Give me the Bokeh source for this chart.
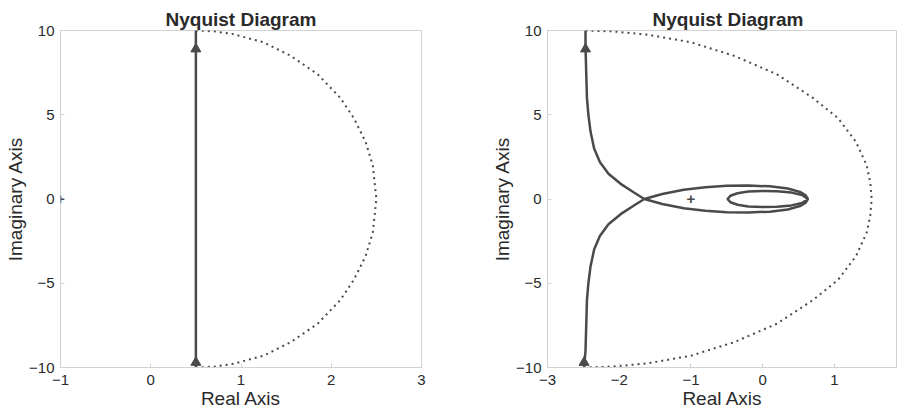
from bokeh.plotting import figure
from bokeh.layouts import row
from bokeh.models import Range1d, FixedTicker, Label
from bokeh.embed import file_html
from bokeh.resources import INLINE

# ---------------- data ----------------
title_text = "Nyquist Diagram"
x_label = "Real Axis"
y_label = "Imaginary Axis"
y_ticks = [-10, -5, 0, 5, 10]

# left diagram
left_x_ticks = [-1, 0, 1, 2, 3]
left_line_x = [0.5, 0.5]
left_line_y = [-10.0, 10.0]
left_arc_x = [0.50, 0.70, 0.90, 1.25, 1.55, 1.85, 2.10, 2.25, 2.38, 2.46, 2.50,
              2.46, 2.38, 2.25, 2.10, 1.85, 1.55, 1.25, 0.90, 0.70, 0.50]
left_arc_y = [10.0, 9.95, 9.8, 9.3, 8.5, 7.4, 6.0, 4.8, 3.4, 2.0, 0.0,
              -2.0, -3.4, -4.8, -6.0, -7.4, -8.5, -9.3, -9.8, -9.95, -10.0]
left_arrow_x = [0.5, 0.5]
left_arrow_y = [8.9, -9.7]

# right diagram
right_x_ticks = [-3, -2, -1, 0, 1]
right_curve_x = [-2.49, -2.47, -2.46, -2.45, -2.43, -2.40, -2.35, -2.27, -2.15, -1.98, -1.80, -1.65,
                 -1.40, -1.10, -0.80, -0.50, -0.20, 0.10, 0.35, 0.52, 0.60, 0.63,
                 0.60, 0.52, 0.35, 0.10, -0.20, -0.50, -0.80, -1.10, -1.40, -1.65,
                 -1.80, -1.98, -2.15, -2.27, -2.35, -2.40, -2.43, -2.45, -2.46, -2.47, -2.47]
right_curve_y = [-10.0, -9.0, -7.5, -6.0, -5.0, -4.0, -3.0, -2.2, -1.5, -0.9, -0.4, 0.0,
                 0.30, 0.55, 0.70, 0.78, 0.80, 0.75, 0.62, 0.42, 0.22, 0.0,
                 -0.22, -0.42, -0.62, -0.75, -0.80, -0.78, -0.70, -0.55, -0.30, 0.0,
                 0.4, 0.9, 1.5, 2.2, 3.0, 4.0, 5.0, 6.0, 7.5, 9.0, 10.0]
right_inner_x = [0.63, 0.55, 0.40, 0.20, 0.00, -0.20, -0.35, -0.45, -0.49,
                 -0.45, -0.35, -0.20, 0.00, 0.20, 0.40, 0.55, 0.63]
right_inner_y = [0.0, 0.24, 0.38, 0.46, 0.48, 0.44, 0.34, 0.19, 0.0,
                 -0.19, -0.34, -0.44, -0.48, -0.46, -0.38, -0.24, 0.0]
right_arc_x = [-2.47, -2.10, -1.60, -1.00, -0.40, 0.20, 0.70, 1.05, 1.30, 1.45, 1.50, 1.52,
               1.50, 1.45, 1.30, 1.05, 0.70, 0.20, -0.40, -1.00, -1.60, -2.10, -2.49]
right_arc_y = [10.0, 9.95, 9.75, 9.3, 8.5, 7.4, 6.0, 4.8, 3.4, 2.0, 1.0, 0.0,
               -1.0, -2.0, -3.4, -4.8, -6.0, -7.4, -8.5, -9.3, -9.75, -9.95, -10.0]
right_arrow_x = [-2.47, -2.49]
right_arrow_y = [8.9, -9.7]

crit_x = [-1.0]
crit_y = [0.0]

# ---------------- styling ----------------
FONT = "Liberation Sans"
INK = "#4a4a4a"
TXT = "#2a2a2a"
FRAME = "#d2d2d2"
HEIGHT = 413


def make_fig(width, xr, xticks, border_left, border_right):
    p = figure(width=width, height=HEIGHT, x_range=Range1d(*xr), y_range=Range1d(-10, 10),
               output_backend="svg", toolbar_location=None,
               min_border_left=border_left, min_border_right=border_right,
               min_border_top=30, min_border_bottom=46)
    p.title.text = title_text
    p.title.text_font = FONT
    p.title.text_font_size = "19px"
    p.title.text_font_style = "bold"
    p.title.text_color = TXT
    p.title.align = "left"
    p.title.offset = 105
    p.title.standoff = 2
    p.grid.visible = False
    p.outline_line_color = FRAME
    p.outline_line_width = 1
    p.background_fill_color = "white"
    p.border_fill_color = "white"
    for ax, lab, ticks, st in ((p.xaxis[0], x_label, xticks, 7), (p.yaxis[0], y_label, y_ticks, 6)):
        ax.ticker = FixedTicker(ticks=ticks)
        ax.axis_label = lab
        ax.axis_label_text_font = FONT
        ax.axis_label_text_font_size = "19px"
        ax.axis_label_text_font_style = "normal"
        ax.axis_label_text_color = TXT
        ax.axis_label_standoff = 0
        ax.major_label_text_font = FONT
        ax.major_label_text_font_size = "15px"
        ax.major_label_text_color = TXT
        ax.major_label_standoff = st
        ax.axis_line_color = FRAME
        ax.major_tick_line_color = FRAME
        ax.major_tick_in = 4
        ax.major_tick_out = 0
        ax.minor_tick_line_color = None
    return p


def add_crit(p):
    p.add_layout(Label(x=crit_x[0], y=crit_y[0], text="+", text_align="center",
                       text_baseline="middle", text_font=FONT, text_font_size="15px",
                       text_font_style="bold", text_color=INK))


p1 = make_fig(450, (-1, 3), left_x_ticks, 60, 29)
p1.line(left_line_x, left_line_y, line_color=INK, line_width=2.5)
p1.line(left_arc_x, left_arc_y, line_color=INK, line_width=2, line_dash="2 4")
p1.scatter(left_arrow_x, left_arrow_y, marker="triangle", size=10,
           fill_color=INK, line_color=INK)
add_crit(p1)

p2 = make_fig(447, (-3, 1.88), right_x_ticks, 97, 0)
p2.line(right_curve_x, right_curve_y, line_color=INK, line_width=2.5)
p2.line(right_inner_x, right_inner_y, line_color=INK, line_width=2.5)
p2.line(right_arc_x, right_arc_y, line_color=INK, line_width=2, line_dash="2 4")
p2.scatter(right_arrow_x, right_arrow_y, marker="triangle", size=10,
           fill_color=INK, line_color=INK)
add_crit(p2)

layout = row(p1, p2)
open("out.html", "w").write(file_html(layout, INLINE))
